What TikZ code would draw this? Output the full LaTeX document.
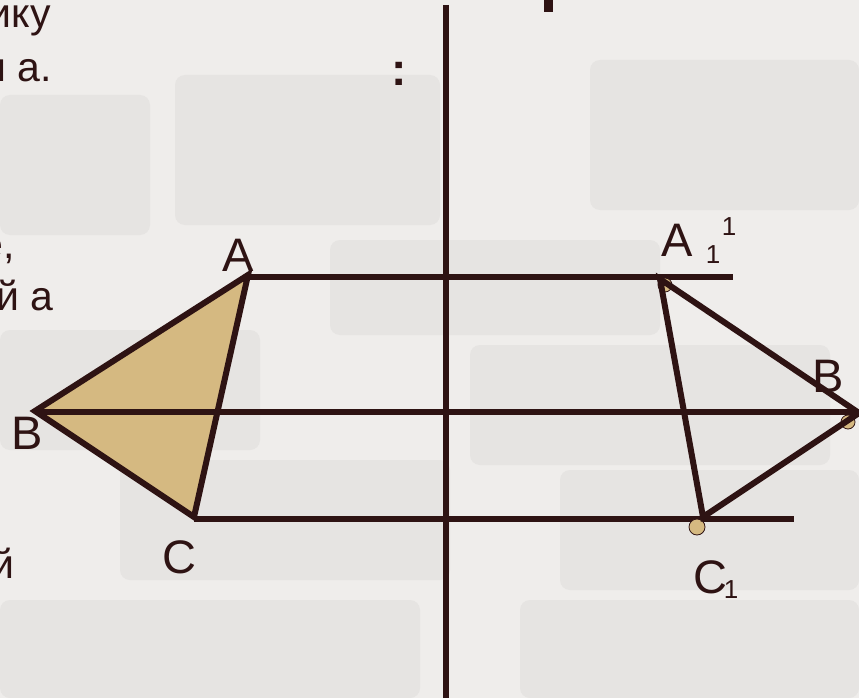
\documentclass[tikz,border=0pt]{standalone}
\usepackage{fontspec}
\setmainfont{Liberation Sans}
\definecolor{ink}{HTML}{2E1313}
\definecolor{sand}{HTML}{D5B981}
\definecolor{wall}{HTML}{EFEDEB}
\definecolor{brick}{HTML}{E6E4E2}

\begin{document}
\begin{tikzpicture}[x=1pt,y=-1pt,
  line/.style={ink,line width=5.5pt},
  edge/.style={ink,line width=6pt,line join=miter},
  lbl/.style={text=ink,font=\fontsize{47}{50}\selectfont,inner sep=0pt},
  idx/.style={text=ink,font=\fontsize{26}{28}\selectfont,inner sep=0pt},
  txt/.style={text=ink,font=\fontsize{41}{44}\selectfont,inner sep=0pt,anchor=base east},
  dot/.style={fill=sand,draw=ink,line width=0.8pt}]
  \useasboundingbox (0,0) rectangle (859,698);
  \clip (0,0) rectangle (859,698);
  % 墙面
  \fill[wall] (0,0) rectangle (859,698);
  \foreach \x/\y/\w/\h in {175/75/265/150, 590/60/269/150, 0/95/150/140,
      330/240/330/95, 0/330/260/120, 470/345/360/120, 120/460/330/120,
      560/470/299/120, 0/600/420/98, 520/600/339/98}
    \fill[brick,rounded corners=10pt] (\x,\y) rectangle ++(\w,\h);
  % 左侧残字
  \node[txt] (t1) at (51,28) {ику};
  \node[txt] (t2) at (52,82) {и а.};
  \node[txt] (t3) at (15,258) {е,};
  \node[txt] (t4) at (54,310) {й а};
  \node[txt] (t5) at (15,578) {й};
  \node[txt,anchor=base,font=\bfseries\fontsize{46}{48}\selectfont] (colon) at (399,86) {:};
  % 标题残笔
  \fill[ink] (544,0) rectangle (553,12);
  % 对称轴
  \coordinate (top) at (446,5);
  \coordinate (bot) at (446,698);
  \draw[ink,line width=6.5pt] (top) -- (bot);
  % 顶点
  \coordinate (A) at (248,275);
  \coordinate (B) at (35,411);
  \coordinate (C) at (194,517);
  \coordinate (A1) at (660,279);
  \coordinate (B1) at (859,413);
  \coordinate (C1) at (703,517);
  \coordinate (aE) at (733,277);
  \coordinate (bE) at (859,412);
  \coordinate (cE) at (794,519);
  % 平行线
  \draw[line] (aE -| A) -- (aE);
  \draw[line] (cE -| C) -- (cE);
  % 三角形 ABC
  \filldraw[edge,fill=sand] (A) -- (B) -- (C) -- cycle;
  \draw[line] (bE -| B) -- (bE);
  % 小圆点
  \draw[dot] (665,285) circle (7pt);
  \draw[dot] (848,422) circle (7pt);
  \draw[dot] (697,527) circle (8pt);
  % 三角形 A1B1C1
  \draw[edge] (A1) -- (B1) -- (C1) -- cycle;
  % 标注
  \node[lbl] (la) at (238,255) {A};
  \node[lbl] (lb) at (27,433) {B};
  \node[lbl] (lc) at (179,557) {C};
  \node[lbl] (la1) at (677,240) {A};
  \node[idx] (la1s) at (713,255) {1};
  \node[idx] (la1p) at (729,227) {1};
  \node[lbl] (lb1) at (828,376) {B};
  \node[lbl] (lc1) at (710,577) {C};
  \node[idx] (lc1s) at (731,590) {1};
\end{tikzpicture}
\end{document}
